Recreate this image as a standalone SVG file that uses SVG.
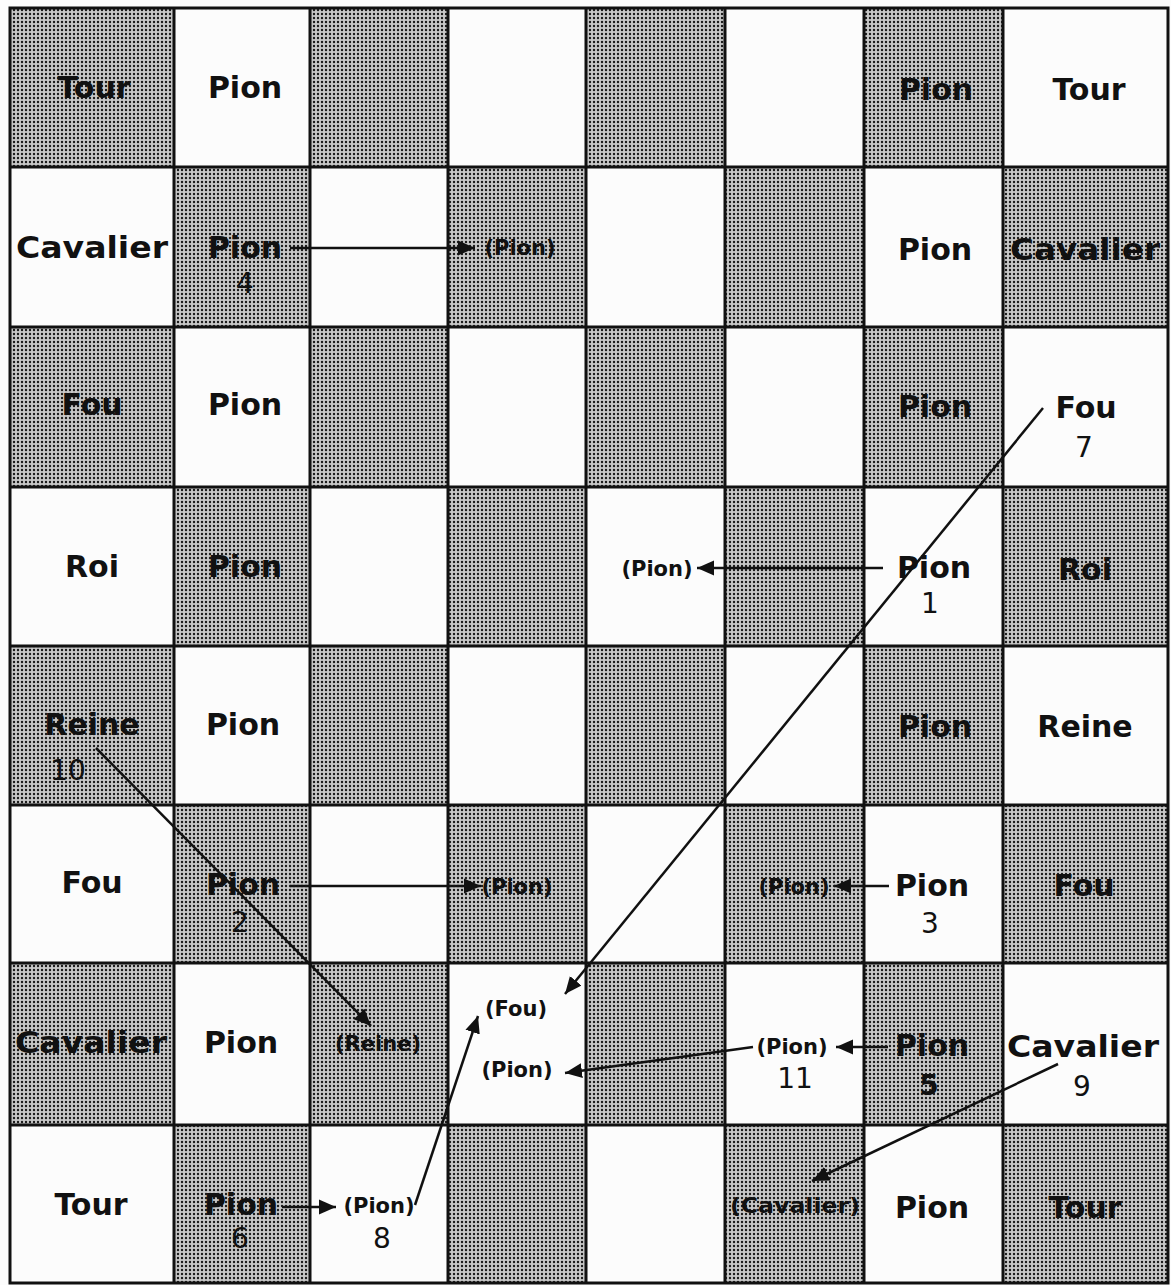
<svg xmlns="http://www.w3.org/2000/svg" width="1171" height="1285" viewBox="0 0 1171 1285">
<style>
.lb{font-family:"DejaVu Sans","Liberation Sans",sans-serif;font-weight:bold;font-size:30px;fill:#111;text-anchor:middle}
.sm{font-family:"DejaVu Sans","Liberation Sans",sans-serif;font-weight:bold;font-size:21px;fill:#111;text-anchor:middle}
.nm{font-family:"DejaVu Sans","Liberation Sans",sans-serif;font-size:28px;fill:#111;text-anchor:middle}
.sh{fill:url(#dots)}
.grid{stroke:#111;stroke-width:3;fill:none}
.cn{stroke:#111;stroke-width:2.5;fill:none;marker-end:url(#ah)}
</style>
<defs>
<pattern id="dots" width="4" height="4" patternUnits="userSpaceOnUse">
<rect width="4" height="4" fill="#c8c8c8"/>
<circle cx="2" cy="2" r="1.2" fill="#1a1a1a"/>
</pattern>
<marker id="ah" markerUnits="userSpaceOnUse" markerWidth="18" markerHeight="18" refX="17" refY="9" orient="auto">
<path d="M0,1.5 L17,9 L0,16.5 z" fill="#111"/>
</marker>
</defs>
<rect width="1171" height="1285" fill="#fcfcfc"/>
<g id="board">
<rect class="sh" x="10" y="8" width="164" height="159"/>
<rect class="sh" x="310" y="8" width="138" height="159"/>
<rect class="sh" x="586" y="8" width="139" height="159"/>
<rect class="sh" x="864" y="8" width="139" height="159"/>
<rect class="sh" x="174" y="167" width="136" height="160"/>
<rect class="sh" x="448" y="167" width="138" height="160"/>
<rect class="sh" x="725" y="167" width="139" height="160"/>
<rect class="sh" x="1003" y="167" width="165" height="160"/>
<rect class="sh" x="10" y="327" width="164" height="160"/>
<rect class="sh" x="310" y="327" width="138" height="160"/>
<rect class="sh" x="586" y="327" width="139" height="160"/>
<rect class="sh" x="864" y="327" width="139" height="160"/>
<rect class="sh" x="174" y="487" width="136" height="159"/>
<rect class="sh" x="448" y="487" width="138" height="159"/>
<rect class="sh" x="725" y="487" width="139" height="159"/>
<rect class="sh" x="1003" y="487" width="165" height="159"/>
<rect class="sh" x="10" y="646" width="164" height="159"/>
<rect class="sh" x="310" y="646" width="138" height="159"/>
<rect class="sh" x="586" y="646" width="139" height="159"/>
<rect class="sh" x="864" y="646" width="139" height="159"/>
<rect class="sh" x="174" y="805" width="136" height="158"/>
<rect class="sh" x="448" y="805" width="138" height="158"/>
<rect class="sh" x="725" y="805" width="139" height="158"/>
<rect class="sh" x="1003" y="805" width="165" height="158"/>
<rect class="sh" x="10" y="963" width="164" height="162"/>
<rect class="sh" x="310" y="963" width="138" height="162"/>
<rect class="sh" x="586" y="963" width="139" height="162"/>
<rect class="sh" x="864" y="963" width="139" height="162"/>
<rect class="sh" x="174" y="1125" width="136" height="158"/>
<rect class="sh" x="448" y="1125" width="138" height="158"/>
<rect class="sh" x="725" y="1125" width="139" height="158"/>
<rect class="sh" x="1003" y="1125" width="165" height="158"/>
<path class="grid" d="M174,8V1283M310,8V1283M448,8V1283M586,8V1283M725,8V1283M864,8V1283M1003,8V1283M10,167H1168M10,327H1168M10,487H1168M10,646H1168M10,805H1168M10,963H1168M10,1125H1168"/>
<rect class="grid" x="10" y="8" width="1158" height="1275"/>
</g>
<g id="connectors">
<line class="cn" x1="290" y1="248" x2="475" y2="248"/>
<line class="cn" x1="883" y1="568" x2="697" y2="568"/>
<line class="cn" x1="290" y1="886" x2="481" y2="886"/>
<line class="cn" x1="889" y1="886" x2="834" y2="886"/>
<line class="cn" x1="888" y1="1047" x2="836" y2="1047"/>
<line class="cn" x1="282" y1="1207" x2="336" y2="1207"/>
<line class="cn" x1="1043" y1="408" x2="565" y2="994"/>
<line class="cn" x1="415" y1="1205" x2="478" y2="1016"/>
<line class="cn" x1="96" y1="748" x2="371" y2="1026"/>
<line class="cn" x1="753" y1="1047" x2="565" y2="1073"/>
<line class="cn" x1="1058" y1="1064" x2="812" y2="1181"/>
</g>
<g id="r0">
<g id="t-a8"><text class="lb" x="94" y="98">Tour</text></g>
<g id="p-a7"><text class="lb" x="245" y="98">Pion</text></g>
<g id="p-g"><text class="lb" x="936" y="100">Pion</text></g>
<g id="t-h"><text class="lb" x="1089" y="100">Tour</text></g>
</g>
<g id="r1">
<g id="c-1"><text class="lb" x="92" y="258" textLength="152" lengthAdjust="spacingAndGlyphs">Cavalier</text></g>
<g id="p4"><text class="lb" x="245" y="258">Pion</text><text class="nm" x="245" y="293">4</text></g>
<g id="p4d"><text class="sm" x="520" y="255">(Pion)</text></g>
<g id="p-g1"><text class="lb" x="935" y="260">Pion</text></g>
<g id="c-2"><text class="lb" x="1085" y="260" textLength="150" lengthAdjust="spacingAndGlyphs">Cavalier</text></g>
</g>
<g id="r2">
<g id="f-1"><text class="lb" x="92" y="415">Fou</text></g>
<g id="p-b2"><text class="lb" x="245" y="415">Pion</text></g>
<g id="p-g2"><text class="lb" x="935" y="417">Pion</text></g>
<g id="f7"><text class="lb" x="1086" y="418">Fou</text><text class="nm" x="1084" y="457">7</text></g>
</g>
<g id="r3">
<g id="roi-1"><text class="lb" x="92" y="577">Roi</text></g>
<g id="p-b3"><text class="lb" x="245" y="577">Pion</text></g>
<g id="p1d"><text class="sm" x="657" y="576">(Pion)</text></g>
<g id="p1"><text class="lb" x="934" y="578">Pion</text><text class="nm" x="930" y="613" font-size="24">1</text></g>
<g id="roi-2"><text class="lb" x="1085" y="580">Roi</text></g>
</g>
<g id="r4">
<g id="reine10"><text class="lb" x="92" y="735">Reine</text><text class="nm" x="68" y="780">10</text></g>
<g id="p-b4"><text class="lb" x="243" y="735">Pion</text></g>
<g id="p-g4"><text class="lb" x="935" y="737">Pion</text></g>
<g id="reine-2"><text class="lb" x="1085" y="737">Reine</text></g>
</g>
<g id="r5">
<g id="f-2"><text class="lb" x="92" y="893">Fou</text></g>
<g id="p2"><text class="lb" x="243" y="895">Pion</text><text class="nm" x="240" y="932">2</text></g>
<g id="p2d"><text class="sm" x="517" y="894">(Pion)</text></g>
<g id="p3d"><text class="sm" x="794" y="894">(Pion)</text></g>
<g id="p3"><text class="lb" x="932" y="896">Pion</text><text class="nm" x="930" y="933">3</text></g>
<g id="f-3"><text class="lb" x="1084" y="896">Fou</text></g>
</g>
<g id="r6">
<g id="c-3"><text class="lb" x="91" y="1053" textLength="152" lengthAdjust="spacingAndGlyphs">Cavalier</text></g>
<g id="p-b6"><text class="lb" x="241" y="1053">Pion</text></g>
<g id="reine-d"><text class="sm" x="378" y="1051" font-size="19">(Reine)</text></g>
<g id="fou-d"><text class="sm" x="516" y="1016">(Fou)</text></g>
<g id="p11d"><text class="sm" x="517" y="1077">(Pion)</text></g>
<g id="p11"><text class="sm" x="792" y="1054">(Pion)</text><text class="nm" x="795" y="1088">11</text></g>
<g id="p5"><text class="lb" x="932" y="1056">Pion</text><text class="nm" x="929" y="1095" font-weight="bold">5</text></g>
<g id="c9"><text class="lb" x="1083" y="1057" textLength="152" lengthAdjust="spacingAndGlyphs">Cavalier</text><text class="nm" x="1082" y="1096">9</text></g>
</g>
<g id="r7">
<g id="t-1"><text class="lb" x="91" y="1215">Tour</text></g>
<g id="p6"><text class="lb" x="241" y="1215">Pion</text><text class="nm" x="240" y="1248">6</text></g>
<g id="p8"><text class="sm" x="379" y="1213">(Pion)</text><text class="nm" x="382" y="1248">8</text></g>
<g id="cav-d"><text class="sm" x="795" y="1213" textLength="130" lengthAdjust="spacingAndGlyphs">(Cavalier)</text></g>
<g id="p-g7"><text class="lb" x="932" y="1218">Pion</text></g>
<g id="t-2"><text class="lb" x="1085" y="1218">Tour</text></g>
</g>
</svg>
